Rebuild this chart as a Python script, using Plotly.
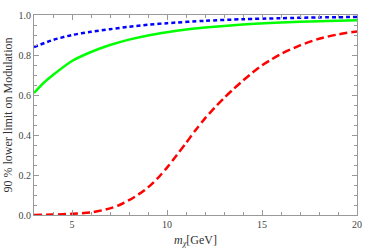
import plotly.graph_objects as go

x_blue = [3, 4, 5, 6, 7, 8, 9, 10, 12, 14, 16, 18, 20]
y_blue = [0.84, 0.875, 0.90, 0.916, 0.929, 0.941, 0.951, 0.959, 0.971, 0.979, 0.984, 0.988, 0.99]

x_green = [3, 3.5, 4, 5, 6, 7, 8, 9, 10, 11, 12, 14, 16, 18, 20]
y_green = [0.61, 0.66, 0.70, 0.77, 0.815, 0.85, 0.877, 0.898, 0.914, 0.927, 0.937, 0.952, 0.962, 0.969, 0.974]

x_red = [3, 4, 5, 6, 7, 7.5, 8, 8.5, 9, 9.5, 10, 10.5, 11, 11.5, 12, 12.5, 13, 13.5, 14, 14.5, 15, 15.5, 16, 17, 18, 19, 20]
y_red = [0.0, 0.002, 0.006, 0.013, 0.033, 0.05, 0.074, 0.103, 0.138, 0.183, 0.237, 0.298, 0.36, 0.424, 0.483, 0.536,
         0.585, 0.63, 0.672, 0.712, 0.748, 0.778, 0.805, 0.848, 0.881, 0.903, 0.918]

x_ticks = [5, 10, 15, 20]
y_ticks = [0.0, 0.2, 0.4, 0.6, 0.8, 1.0]
y_tick_text = ["0.0", "0.2", "0.4", "0.6", "0.8", "1.0"]

fig = go.Figure()
fig.add_trace(go.Scatter(x=x_red, y=y_red, mode="lines", line=dict(color="#ff0000", width=2.5, dash="8px,4px", shape="spline", smoothing=0.8)))
fig.add_trace(go.Scatter(x=x_green, y=y_green, mode="lines", line=dict(color="#00ff00", width=2.5, shape="spline", smoothing=0.8)))
fig.add_trace(go.Scatter(x=x_blue, y=y_blue, mode="lines", line=dict(color="#0000ff", width=2.5, dash="4px,3px", shape="spline", smoothing=0.8)))

axis_common = dict(showline=True, linecolor="#999999", linewidth=1, mirror="ticks", ticks="inside",
                   tickcolor="#999999", ticklen=5, tickwidth=1, showgrid=False, zeroline=False, automargin=False,
                   tickfont=dict(family="Liberation Serif", size=10, color="#444444"))

fig.update_xaxes(range=[3, 20], tickvals=x_ticks, **axis_common,
                 minor=dict(ticks="inside", ticklen=3, tickcolor="#999999", dtick=1, showgrid=False),
                 title=dict(text="<i>m</i><sub><i>χ</i></sub>[GeV]", font=dict(family="Liberation Serif", size=12, color="#333333"), standoff=6))
fig.update_yaxes(range=[0, 1.0], tickvals=y_ticks, ticktext=y_tick_text, **axis_common,
                 minor=dict(ticks="inside", ticklen=3, tickcolor="#999999", dtick=0.05, showgrid=False),
                 title=dict(text="90 % lower limit on Modulation", font=dict(family="Liberation Serif", size=12, color="#333333"), standoff=3))

fig.update_layout(width=374, height=251, margin=dict(l=34, r=17, t=15, b=36),
                  plot_bgcolor="white", paper_bgcolor="white", showlegend=False)

fig.write_html("out.html", config={"displayModeBar": False},
               post_script="document.body.style.margin='0';document.body.style.overflow='hidden';")
